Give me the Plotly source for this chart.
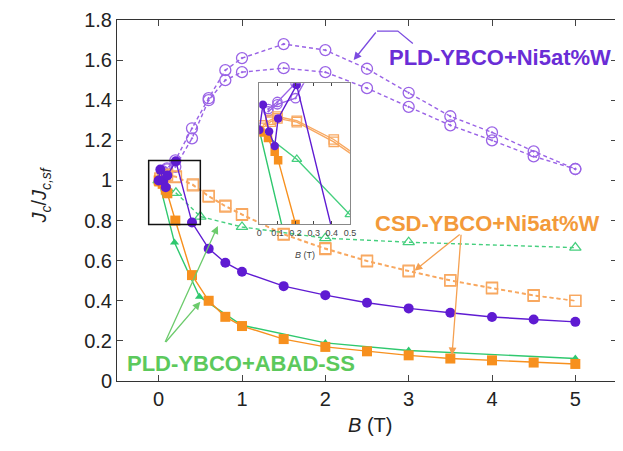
import plotly.graph_objects as go

# ---------------- data ----------------
# PLD-YBCO+Ni5at%W, open circles (two sweeps, dashed)
pld_ni_open_up_B = [0.05, 0.1, 0.2, 0.4, 0.6, 0.8, 1.0, 1.5, 2.0, 2.5, 3.0, 3.5, 4.0, 4.5, 5.0]
pld_ni_open_up_J = [1.045, 1.06, 1.10, 1.26, 1.41, 1.55, 1.61, 1.68, 1.65, 1.557, 1.437, 1.32, 1.24, 1.145, 1.057]
pld_ni_open_dn_B = [0.05, 0.1, 0.2, 0.4, 0.6, 0.8, 1.0, 1.5, 2.0, 2.5, 3.0, 3.5, 4.0, 4.5, 5.0]
pld_ni_open_dn_J = [1.04, 1.055, 1.068, 1.21, 1.40, 1.50, 1.54, 1.56, 1.54, 1.46, 1.367, 1.275, 1.20, 1.12, 1.057]

# PLD-YBCO+Ni5at%W, filled circles (solid)
pld_ni_fill_B = [0.0, 0.02, 0.054, 0.085, 0.104, 0.206, 0.4, 0.6, 0.8, 1.0, 1.5, 2.0, 2.5, 3.0, 3.5, 4.0, 4.5, 5.0]
pld_ni_fill_J = [1.0, 1.054, 0.997, 0.966, 1.025, 1.096, 0.79, 0.66, 0.59, 0.545, 0.473, 0.428, 0.39, 0.362, 0.34, 0.319, 0.307, 0.295]

# CSD-YBCO+Ni5at%W, open squares (two sweeps, dashed)
csd_open_a_B = [0.02, 0.063, 0.1, 0.207, 0.411, 0.6, 0.8, 1.0, 1.5, 2.0, 2.5, 3.0, 3.5, 4.0, 4.5, 5.0]
csd_open_a_J = [1.01, 1.022, 1.029, 1.02, 0.98, 0.923, 0.874, 0.832, 0.733, 0.662, 0.60, 0.55, 0.503, 0.465, 0.428, 0.40]
csd_open_b_B = [0.02, 0.063, 0.1, 0.207, 0.411, 0.6, 0.8, 1.0, 1.5, 2.0, 2.5, 3.0, 3.5, 4.0, 4.5, 5.0]
csd_open_b_J = [1.005, 1.018, 1.025, 1.017, 0.975, 0.92, 0.87, 0.828, 0.73, 0.658, 0.597, 0.547, 0.50, 0.462, 0.425, 0.40]

# CSD-YBCO+Ni5at%W, filled squares (solid)
csd_fill_B = [0.0, 0.007, 0.048, 0.085, 0.104, 0.2, 0.4, 0.6, 0.8, 1.0, 1.5, 2.0, 2.5, 3.0, 3.5, 4.0, 4.5, 5.0]
csd_fill_J = [1.0, 0.995, 0.983, 0.954, 0.936, 0.80, 0.528, 0.40, 0.32, 0.274, 0.209, 0.17, 0.148, 0.128, 0.112, 0.103, 0.092, 0.085]

# PLD-YBCO+ABAD-SS, open triangles (dashed)
abad_open_B = [0.0, 0.207, 0.5, 1.0, 2.0, 3.0, 5.0]
abad_open_J = [1.0, 0.938, 0.82, 0.768, 0.712, 0.692, 0.665]

# PLD-YBCO+ABAD-SS, filled triangles (solid)
abad_fill_B = [0.0, 0.19, 0.49, 1.0, 2.0, 3.0, 5.0]
abad_fill_J = [1.0, 0.69, 0.42, 0.278, 0.19, 0.152, 0.112]

x_ticks = [0, 1, 2, 3, 4, 5]
y_ticks = [0, 0.2, 0.4, 0.6, 0.8, 1.0, 1.2, 1.4, 1.6, 1.8]
inset_ticks = [0, 0.1, 0.2, 0.3, 0.4, 0.5]

label_pld_ni = "PLD-YBCO+Ni5at%W"
label_csd = "CSD-YBCO+Ni5at%W"
label_abad = "PLD-YBCO+ABAD-SS"

# ---------------- styles ----------------
PURPLE = "#5F1BD2"
PURPLE_L = "#9A63E6"
ORANGE = "#F7901E"
ORANGE_L = "#F8A860"
GREEN = "#2FC86E"
GREEN_L = "#45CF7E"
GREEN_T = "#5CC95C"
FONT = "Liberation Sans, Arial, sans-serif"

fig = go.Figure()


def add_series(xref, yref, inset):
    dash_style = "solid" if inset else "4px,3px"
    s = 0.85 if inset else 1.0
    common = dict(xaxis=xref, yaxis=yref, showlegend=False, hoverinfo="skip")
    for B, J in ((pld_ni_open_up_B, pld_ni_open_up_J), (pld_ni_open_dn_B, pld_ni_open_dn_J)):
        fig.add_trace(go.Scatter(x=B, y=J, mode="lines+markers",
                                 line=dict(color=PURPLE_L, width=1.4, dash=dash_style),
                                 marker=dict(symbol="circle-open-dot", size=11 * s, color=PURPLE_L,
                                             line=dict(width=1.3)), **common))
    for B, J in ((csd_open_a_B, csd_open_a_J), (csd_open_b_B, csd_open_b_J)):
        fig.add_trace(go.Scatter(x=B, y=J, mode="lines+markers",
                                 line=dict(color=ORANGE_L, width=1.4, dash=dash_style),
                                 marker=dict(symbol="square-open", size=11 * s, color=ORANGE_L,
                                             line=dict(width=1.3)), **common))
    fig.add_trace(go.Scatter(x=abad_open_B, y=abad_open_J, mode="lines+markers",
                             line=dict(color=GREEN_L, width=1.4, dash=dash_style),
                             marker=dict(symbol="triangle-up-open", size=10 * s, color=GREEN_L,
                                         line=dict(width=1.3)), **common))
    fig.add_trace(go.Scatter(x=abad_fill_B, y=abad_fill_J, mode="lines+markers",
                             line=dict(color=GREEN, width=1.4),
                             marker=dict(symbol="triangle-up", size=8 * s, color=GREEN), **common))
    fig.add_trace(go.Scatter(x=csd_fill_B, y=csd_fill_J, mode="lines+markers",
                             line=dict(color=ORANGE, width=1.4),
                             marker=dict(symbol="square", size=10 * s, color=ORANGE), **common))
    fig.add_trace(go.Scatter(x=pld_ni_fill_B, y=pld_ni_fill_J, mode="lines+markers",
                             line=dict(color=PURPLE, width=1.4),
                             marker=dict(symbol="circle", size=10 * s, color=PURPLE), **common))


add_series("x", "y", False)
add_series("x2", "y2", True)

axis_font = dict(family=FONT, size=20, color="#222")

# the page body adds an 8px offset; size the figure so the plot lands where the reference has it
fig.update_layout(
    width=615, height=443,
    margin=dict(l=109, r=0, t=12, b=70),
    paper_bgcolor="white", plot_bgcolor="white",
    font=dict(family=FONT),
    xaxis=dict(range=[-0.5, 5.5], tickvals=x_ticks, ticks="inside", ticklen=6,
               showline=True, mirror="ticks", linecolor="#333", linewidth=1,
               showgrid=False, zeroline=False, tickfont=axis_font),
    yaxis=dict(range=[0, 1.8], tickvals=y_ticks, ticks="inside", ticklen=6,
               showline=True, mirror="ticks", linecolor="#333", linewidth=1,
               showgrid=False, zeroline=False, tickfont=axis_font),
    xaxis2=dict(domain=[0.2846, 0.4658], anchor="y2", range=[0, 0.5], tickvals=inset_ticks,
                ticks="inside", ticklen=3, showline=True, mirror="ticks", linecolor="#888",
                linewidth=1, showgrid=False, zeroline=False,
                tickfont=dict(family=FONT, size=9, color="#444")),
    yaxis2=dict(domain=[0.435, 0.825], anchor="x2", range=[0.8, 1.1], showticklabels=False,
                ticks="", showline=True, mirror=True, linecolor="#888", linewidth=1,
                showgrid=False, zeroline=False),
)

fig.add_shape(type="rect", xref="x2 domain", yref="y2 domain", x0=0, x1=1, y0=0, y1=1,
              fillcolor="white", line=dict(width=0), layer="below")

fig.add_shape(type="rect", xref="x", yref="y", x0=-0.12, x1=0.5, y0=0.78, y1=1.1,
              line=dict(color="#111", width=1.5), layer="above")

# axis titles
fig.add_annotation(xref="paper", yref="paper", x=0.505, y=-0.158, showarrow=False,
                   text="<i>B</i> (T)", font=dict(family=FONT, size=20, color="#222"))
fig.add_annotation(xref="paper", yref="paper", x=-0.182, y=0.515, showarrow=False, textangle=-90,
                   text="<i>J</i><sub><i>c</i></sub>/<i>J</i><sub><i>c,sf</i></sub>",
                   font=dict(family=FONT, size=20, color="#222"))
fig.add_annotation(xref="x2 domain", yref="y2 domain", x=0.5, y=-0.17, yanchor="top", showarrow=False,
                   text="<i>B</i> (T)", font=dict(family=FONT, size=9, color="#444"))

# labels
fig.add_annotation(xref="x", yref="y", x=4.10, y=1.612, showarrow=False, text="<b>%s</b>" % label_pld_ni,
                   font=dict(family=FONT, size=22, color="#6A2DD6"))
fig.add_annotation(xref="x", yref="y", x=3.94, y=0.787, showarrow=False, text="<b>%s</b>" % label_csd,
                   font=dict(family=FONT, size=22, color="#F39A3A"))
fig.add_annotation(xref="x", yref="y", x=0.99, y=0.087, showarrow=False, text="<b>%s</b>" % label_abad,
                   font=dict(family=FONT, size=22, color=GREEN_T))

# purple arrow (bent)
fig.add_shape(type="path", xref="x", yref="y", path="M 3.05,1.683 L 2.87,1.745 L 2.62,1.745",
              line=dict(color="#7B4BE0", width=1.3))
fig.add_annotation(xref="x", yref="y", axref="x", ayref="y", x=2.34, y=1.60, ax=2.62, ay=1.745,
                   showarrow=True, arrowhead=2, arrowsize=1.2, arrowwidth=1.3, arrowcolor="#7B4BE0", text="")
# orange arrows
for tx, ty in ((3.07, 0.55), (3.52, 0.128)):
    fig.add_annotation(xref="x", yref="y", axref="x", ayref="y", x=tx, y=ty, ax=3.63, ay=0.737,
                       showarrow=True, arrowhead=2, arrowsize=1.2, arrowwidth=1.3, arrowcolor="#F5A050", text="")
# green arrows
for tx, ty in ((0.5, 0.395), (0.71, 0.773)):
    fig.add_annotation(xref="x", yref="y", axref="x", ayref="y", x=tx, y=ty, ax=0.07, ay=0.187,
                       showarrow=True, arrowhead=2, arrowsize=1.2, arrowwidth=1.3, arrowcolor="#6CCB6C", text="")

fig.write_html("out.html")
